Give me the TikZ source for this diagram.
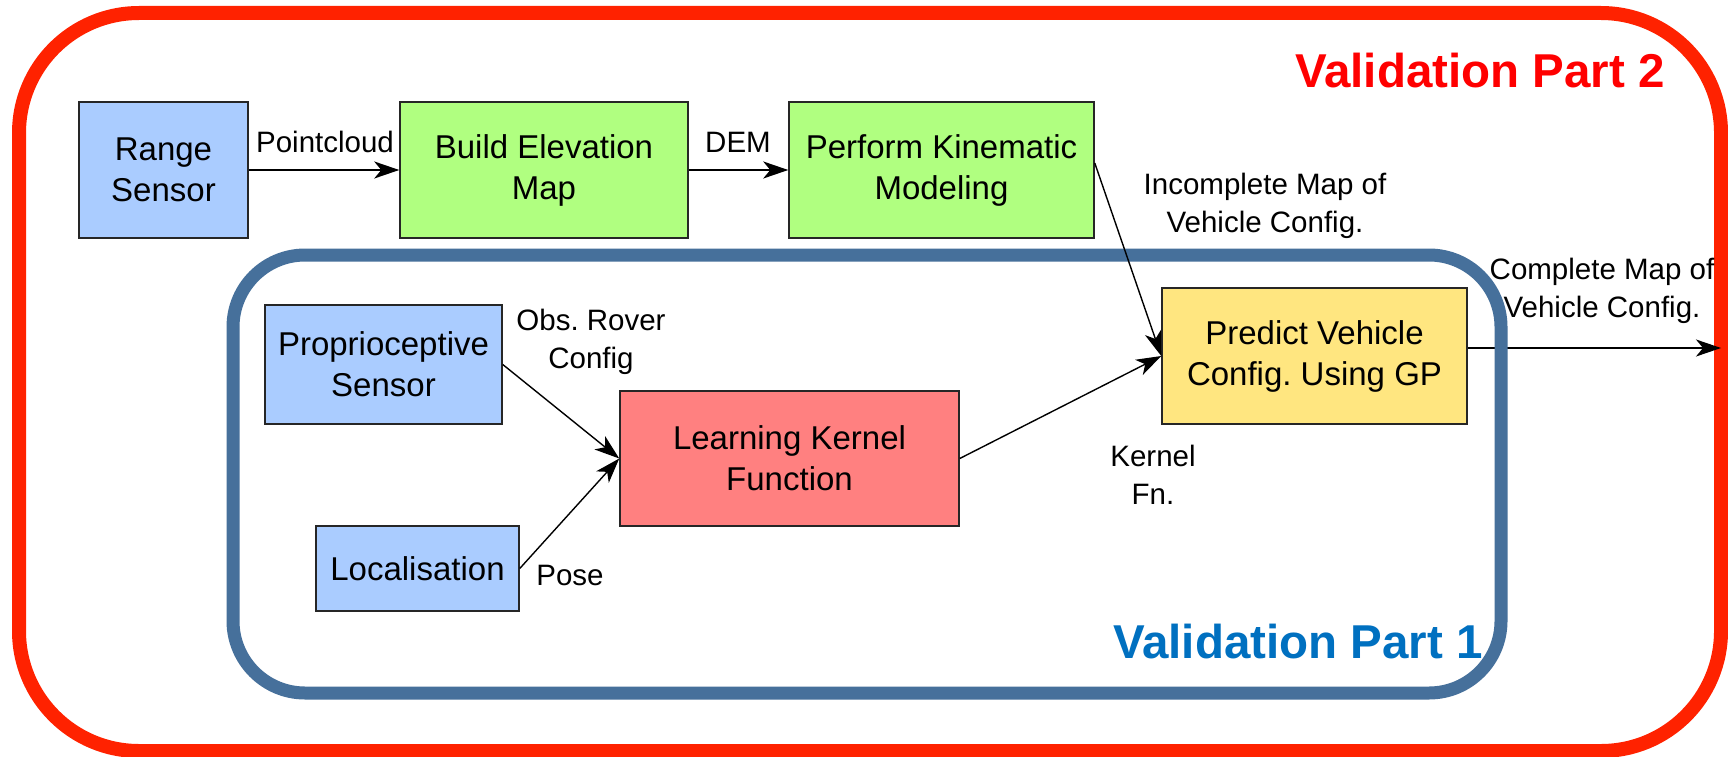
\documentclass[tikz,border=0pt]{standalone}
\usepackage{fontspec}
\setmainfont{Liberation Sans}
\usetikzlibrary{arrows.meta}
\definecolor{framered}{RGB}{255,34,0}
\definecolor{frameblue}{RGB}{70,112,155}
\definecolor{titlered}{RGB}{255,0,0}
\definecolor{titleblue}{RGB}{0,112,192}
\definecolor{sensorblue}{RGB}{170,204,255}
\definecolor{procgreen}{RGB}{176,255,128}
\definecolor{learnred}{RGB}{255,128,128}
\definecolor{predyellow}{RGB}{255,230,128}
\frenchspacing
\begin{document}
\begin{tikzpicture}[x=1pt,y=-1pt,
  block/.style={draw=black!85, line width=1.5pt, align=center, inner sep=0pt,
    font=\fontsize{33}{41}\selectfont},
  lbl/.style={align=center, inner sep=0pt, font=\fontsize{29.5}{38}\selectfont},
  baselbl/.style={lbl, anchor=base},
  title/.style={inner sep=0pt, anchor=base, font=\fontsize{47.5}{50}\selectfont\bfseries},
  flow/.style={-{Stealth[length=25pt,width=17pt,inset=7pt]}, line width=1.8pt},
  thinflow/.style={flow, line width=1.4pt},
  frame/.style={line width=14pt}
]
\useasboundingbox (0,0) rectangle (1728,757);
\fill[white] (0,0) rectangle (1728,757);

% outer frame
\draw[frame, draw=framered, rounded corners=120pt] (19,13) rectangle (1721,751);
\node[title, text=titlered] (t2) at (1480,88) {Validation Part 2};

% edge labels
\node[baselbl] (lpc) at (325,153) {Pointcloud};
\node[baselbl] (ldem) at (738,153) {DEM};
\node[lbl] (linc) at (1265,206) {Incomplete Map of\\Vehicle Config.};
\node[lbl] (lcomp) at (1602,291) {Complete Map of\\Vehicle Config.};
\node[lbl] (lobs) at (591,342) {Obs. Rover\\Config};
\node[baselbl] (lpose) at (570,585) {Pose};
\node[lbl] (lker) at (1153,475) {Kernel\\Fn.};

% blocks
\node[block, fill=sensorblue, minimum width=169pt, minimum height=136pt] (range) at (163.5,170) {Range\\Sensor};
\node[block, fill=procgreen, minimum width=288pt, minimum height=136pt] (elev) at (544,170) {Build Elevation\\Map};
\node[block, fill=procgreen, minimum width=305pt, minimum height=136pt] (perf) at (941.5,170) {Perform Kinematic\\Modeling};
\node[block, fill=sensorblue, minimum width=237pt, minimum height=119pt] (prop) at (383.5,364.5) {Proprioceptive\\Sensor};
\node[block, fill=sensorblue, minimum width=203pt, minimum height=85pt] (loc) at (417.5,568.5) {Localisation};
\node[block, fill=learnred, minimum width=339pt, minimum height=135pt] (learn) at (789.5,458.5) {Learning Kernel\\Function};
\node[block, fill=predyellow, minimum width=305pt, minimum height=136pt] (pred) at (1314.5,356) {Predict Vehicle\\Config. Using GP};
\coordinate (out) at (1721,348);

% output connector runs beneath the inner frame
\draw[thinflow] ([yshift=8pt]pred.east) -- (out);

% inner frame
\draw[frame, line width=13pt, draw=frameblue, rounded corners=72pt] (233,255) rectangle (1501,693);
\node[title, text=titleblue] (t1) at (1298,658) {Validation Part 1};

% connectors
\draw[flow] (range) -- (elev);
\draw[flow] (elev) -- (perf);
\draw[thinflow] ([yshift=7pt]perf.east) -- (pred.west);
\draw[thinflow] (prop.east) -- (learn.west);
\draw[thinflow] (loc.east) -- (learn.west);
\draw[thinflow] (learn.east) -- (pred.west);
\end{tikzpicture}
\end{document}
